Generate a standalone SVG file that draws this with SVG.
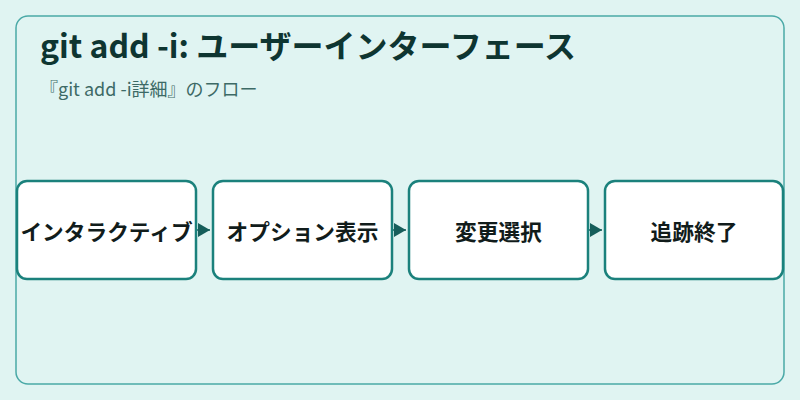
<svg xmlns="http://www.w3.org/2000/svg" width="800" height="400" viewBox="0 0 800 400">
<style>
.node rect{fill:#ffffff;stroke:#1b817c;stroke-width:2.5}
.node text{font-family:"Noto Sans CJK JP","Noto Sans",sans-serif;font-weight:bold;font-size:21.7px;fill:#111c1b;text-anchor:middle;dominant-baseline:central}
.title{font-family:"Noto Sans CJK JP","Noto Sans",sans-serif;font-weight:bold;font-size:32px;fill:#0e3531}
.sub{font-family:"Noto Sans CJK JP","Noto Sans",sans-serif;font-size:18px;fill:#3d6a66}
</style>
<defs>
<marker id="ah" viewBox="0 0 10 10" refX="10" refY="5" markerWidth="12" markerHeight="14" markerUnits="userSpaceOnUse" orient="auto" preserveAspectRatio="none">
<path d="M0,0 L10,5 L0,10 Z" fill="#165e5b"/>
</marker>
</defs>
<rect x="0" y="0" width="800" height="400" fill="#e0f4f2"/>
<rect x="16" y="16" width="768" height="368" rx="12" fill="#e0f4f2" stroke="#4aa9a7" stroke-width="1.5"/>
<text class="title" x="40" y="58">git add -i: ユーザーインターフェース</text>
<text class="sub" x="40" y="96">『git add -i詳細』のフロー</text>
<g id="connectors">
<line x1="197" y1="230" x2="210" y2="230" stroke="#165e5b" stroke-width="1.5" marker-end="url(#ah)"/>
<line x1="393" y1="230" x2="406" y2="230" stroke="#165e5b" stroke-width="1.5" marker-end="url(#ah)"/>
<line x1="589" y1="230" x2="602" y2="230" stroke="#165e5b" stroke-width="1.5" marker-end="url(#ah)"/>
</g>
<g id="node1" class="node"><rect x="17" y="181" width="179" height="98" rx="10"/><text x="106.5" y="230">インタラクティブ</text></g>
<g id="node2" class="node"><rect x="213" y="181" width="179" height="98" rx="10"/><text x="302.5" y="230">オプション表示</text></g>
<g id="node3" class="node"><rect x="409" y="181" width="179" height="98" rx="10"/><text x="498.5" y="230">変更選択</text></g>
<g id="node4" class="node"><rect x="605" y="181" width="178" height="98" rx="10"/><text x="694" y="230">追跡終了</text></g>
</svg>
